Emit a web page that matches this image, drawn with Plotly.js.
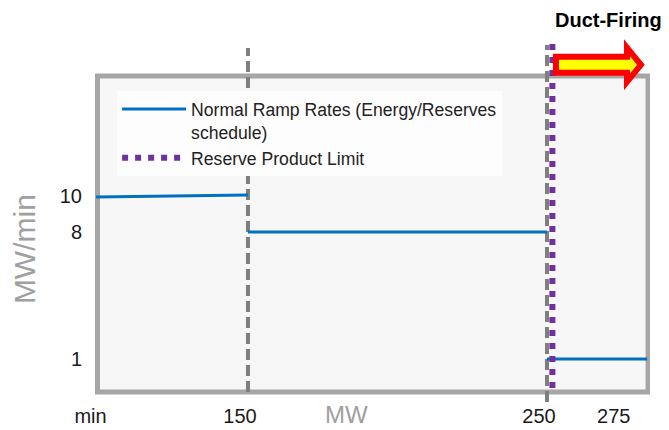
<!DOCTYPE html>
<html><head><meta charset="utf-8">
<script src="https://cdn.plot.ly/plotly-3.0.1.min.js"></script>
<style>html,body{margin:0;padding:0;background:#fff}#chart{width:669px;height:430px}</style>
</head><body><div id="chart"></div><script>
// ---- data ----
const xTickVals = [100, 150, 250, 275];
const xTickText = ['min', '150', '250', '275'];
const yTickVals = [10, 8, 1];
const yTickText = ['10', '8', '1'];
const rampMW   = [99.2, 150, null, 150, 250, null, 250, 283.5];
const rampRate = [9.94, 10.05, null, 8, 8, null, 1, 1];
const breakMW = [150, 250];
const breakTop = [18.15, 18.31];
const breakBottom = [-0.82, -1.37];
const reserveLimitMW = [251.8, 251.8];
const reserveLimitRate = [-0.6, 18.7];
const ductFiringFrom = 253.0;
const ductFiringTo = 281.4;

// ---- layout constants ----
const xRange = [97.83, 284.45];
const yRange = [-1.367, 18.70];
const box = {x0: 99.67, x1: 283.8, y0: -0.816, y1: 16.6};
const arrowY = 17.22, bodyHalf = 0.44, headHalf = 0.94, headLen = 4.65;

const traces = [
  {x: rampMW, y: rampRate, mode: 'lines', connectgaps: false,
   name: 'Normal Ramp Rates (Energy/Reserves<br>schedule)',
   line: {color: '#0070c0', width: 3}},
  {x: reserveLimitMW, y: reserveLimitRate, mode: 'lines',
   name: 'Reserve Product Limit',
   line: {color: '#7030a0', width: 6, dash: '6px,7px'}}
];
breakMW.forEach((v, i) => {
  traces.push({x: [v, v], y: [breakBottom[i], breakTop[i]], mode: 'lines', showlegend: false,
    hoverinfo: 'skip', line: {color: '#7f7f7f', width: 4, dash: '11px,5px'}});
});
const ordered = [traces[2], traces[3], traces[0], traces[1]];

const hx = ductFiringTo - headLen;
const arrowPath = 'M' + ductFiringFrom + ',' + (arrowY + bodyHalf) +
  ' L' + hx + ',' + (arrowY + bodyHalf) +
  ' L' + hx + ',' + (arrowY + headHalf) +
  ' L' + ductFiringTo + ',' + arrowY +
  ' L' + hx + ',' + (arrowY - headHalf) +
  ' L' + hx + ',' + (arrowY - bodyHalf) +
  ' L' + ductFiringFrom + ',' + (arrowY - bodyHalf) + ' Z';

const font = 'Liberation Sans, Arial, sans-serif';
const layout = {
  width: 669, height: 430,
  margin: {l: 92, r: 19, t: 38, b: 28},
  paper_bgcolor: '#ffffff', plot_bgcolor: '#ffffff',
  font: {family: font, color: '#1a1a1a', size: 20},
  showlegend: true,
  legend: {x: 0.045, y: 0.854, xanchor: 'left', yanchor: 'top',
    bgcolor: '#fdfdfd', borderwidth: 0, valign: 'top', itemwidth: 64,
    font: {family: font, size: 17.6, color: '#222'}, traceorder: 'normal'},
  xaxis: {range: xRange, tickvals: xTickVals, ticktext: xTickText, showgrid: false,
    zeroline: false, showline: false, ticks: '', ticklabelshift: -8,
    tickfont: {size: 20, color: '#1a1a1a'}},
  yaxis: {range: yRange, tickvals: yTickVals, ticktext: yTickText, showgrid: false,
    zeroline: false, showline: false, ticks: '', ticklabelstandoff: 9,
    tickfont: {size: 20, color: '#1a1a1a'}},
  shapes: [
    {type: 'rect', xref: 'x', yref: 'y', x0: box.x0, x1: box.x1, y0: box.y0, y1: box.y1,
     line: {color: '#a6a6a6', width: 5}, fillcolor: '#f7f7f7', layer: 'below'},
    {type: 'path', xref: 'x', yref: 'y', path: arrowPath,
     line: {color: '#ff0000', width: 6}, fillcolor: '#ffff00', layer: 'above'}
  ],
  annotations: [
    {text: '<b>Duct-Firing</b>', xref: 'paper', yref: 'paper', x: 0.925, y: 1.0,
     yshift: 5, xanchor: 'center', yanchor: 'bottom', showarrow: false,
     font: {family: font, size: 20, color: '#000'}},
    {text: 'MW', xref: 'paper', yref: 'paper', x: 0.456, y: 0, yshift: -28,
     xanchor: 'center', yanchor: 'bottom', showarrow: false,
     font: {family: font, size: 24, color: '#a0a0a0'}},
    {text: 'MW/min', xref: 'paper', yref: 'paper', x: 0, xshift: -68, y: 0.42,
     xanchor: 'center', yanchor: 'middle', textangle: -90, showarrow: false,
     font: {family: font, size: 30, color: '#a0a0a0'}}
  ]
};
Plotly.newPlot('chart', ordered, layout, {displayModeBar: false, staticPlot: true});
</script></body></html>
